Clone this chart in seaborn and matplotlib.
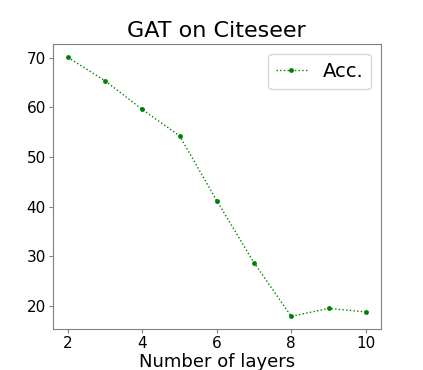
import numpy as np
import pandas as pd
import matplotlib
matplotlib.use("Agg")
import matplotlib.pyplot as plt
import seaborn as sns

layers = [2, 3, 4, 5, 6, 7, 8, 9, 10]
acc = [70.1, 65.4, 59.6, 54.3, 41.2, 28.7, 17.9, 19.5, 18.8]

df = pd.DataFrame({"layers": layers, "acc": acc})

sns.set_style("white")
plt.rcParams["font.family"] = ["DejaVu Sans"]
plt.rcParams["text.color"] = "black"
plt.rcParams["xtick.color"] = "black"
plt.rcParams["ytick.color"] = "black"
plt.rcParams["axes.labelcolor"] = "black"

fig, ax = plt.subplots(figsize=(4.23, 3.70), dpi=100)
sns.lineplot(data=df, x="layers", y="acc", ax=ax, color="green",
             linestyle=":", marker="o", markersize=3.5, markeredgewidth=0,
             linewidth=1.0, label="Acc.")

ax.set_title("GAT on Citeseer", fontsize=16, pad=5)
ax.set_xlabel("Number of layers", fontsize=13, labelpad=1)
ax.set_ylabel("")
ax.set_xticks([2, 4, 6, 8, 10])
ax.set_yticks([20, 30, 40, 50, 60, 70])
ax.tick_params(labelsize=11, bottom=True, left=True, length=3, width=0.8,
               color="gray", pad=2)
for s in ax.spines.values():
    s.set_color("gray")
ax.legend(fontsize=14, loc="upper right", handlelength=1.6)
fig.subplots_adjust(left=0.125, right=0.9, bottom=0.11, top=0.88)
fig.savefig("out.png", dpi=100)
